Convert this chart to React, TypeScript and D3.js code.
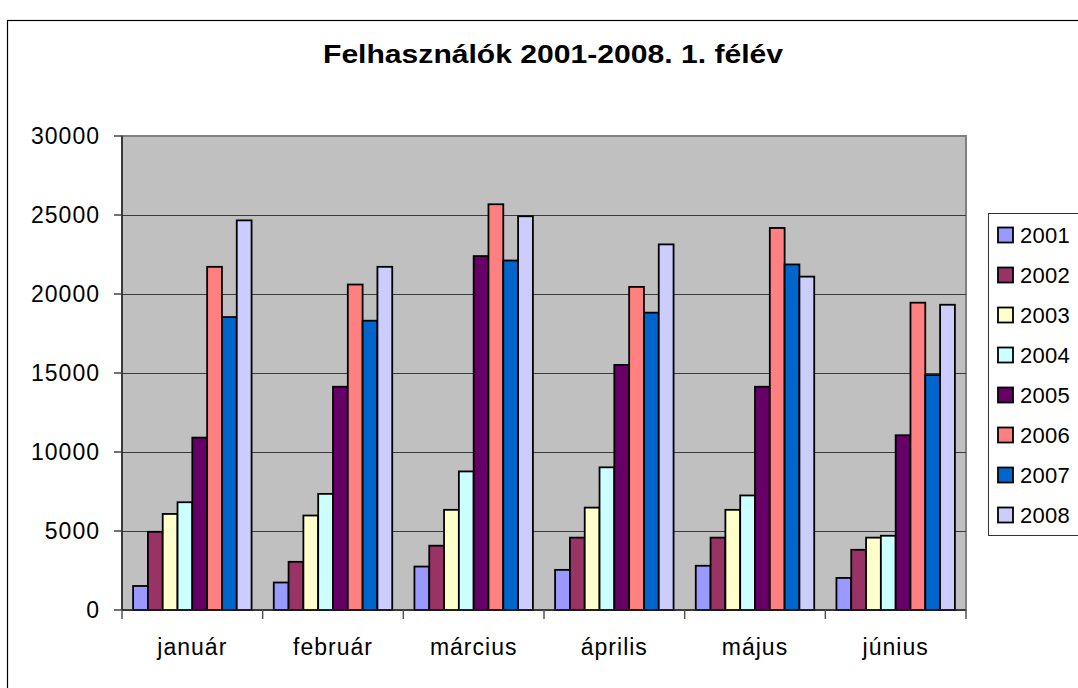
import React, {useEffect, useRef} from 'react';
import * as d3 from 'd3';

const W = 1078;
const H = 688;

const months = ['január', 'február', 'március', 'április', 'május', 'június'];
const years = ['2001', '2002', '2003', '2004', '2005', '2006', '2007', '2008'];
const colors = ['#9999FF', '#993366', '#FFFFCC', '#CCFFFF', '#660066', '#FF8080', '#0066CC', '#CCCCFF'];

// one array per year, Jan..Jun
const y2001 = [1520, 1740, 2750, 2540, 2800, 2030];
const y2002 = [4950, 3050, 4070, 4580, 4580, 3810];
const y2003 = [6080, 5980, 6340, 6480, 6340, 4580];
const y2004 = [6820, 7350, 8770, 9030, 7250, 4700];
const y2005 = [10910, 14130, 22400, 15510, 14130, 11060];
const y2006 = [21720, 20600, 25680, 20450, 24180, 19450];
const y2007 = [18540, 18310, 22120, 18820, 21870, 14870];
const y2008 = [24660, 21720, 24920, 23140, 21100, 19320];
const series = [y2001, y2002, y2003, y2004, y2005, y2006, y2007, y2008];

const yTicks = [0, 5000, 10000, 15000, 20000, 25000, 30000];
const title = 'Felhasználók 2001-2008. 1. félév';

const FONT = '"Liberation Sans", Arial, sans-serif';

function draw(node: SVGSVGElement) {
  const svg = d3.select(node);
  svg.selectAll('*').remove();

  const plot = {left: 122, right: 966, top: 136, bottom: 610};

  const x0 = d3.scaleBand().domain(months).range([plot.left, plot.right]).padding(0);
  const x1 = d3.scaleBand().domain(years).range([0, x0.bandwidth()])
    .paddingInner(0).paddingOuter(0.75);
  const y = d3.scaleLinear().domain([0, 30000]).range([plot.bottom, plot.top]);

  // outer chart frame (runs off the right/bottom edge)
  svg.append('rect')
    .attr('x', 7.5).attr('y', 20.5)
    .attr('width', W + 20).attr('height', H + 20)
    .attr('fill', '#fff').attr('stroke', '#000').attr('stroke-width', 1.2);

  // title
  svg.append('text')
    .attr('x', 553).attr('y', 63)
    .attr('text-anchor', 'middle')
    .attr('font-family', FONT).attr('font-weight', 'bold').attr('font-size', 26)
    .attr('textLength', 460).attr('lengthAdjust', 'spacingAndGlyphs')
    .text(title);

  // plot area
  svg.append('rect')
    .attr('x', plot.left).attr('y', plot.top)
    .attr('width', plot.right - plot.left).attr('height', plot.bottom - plot.top)
    .attr('fill', '#C0C0C0').attr('stroke', '#808080').attr('stroke-width', 2);

  // gridlines
  svg.append('g').selectAll('line')
    .data(yTicks.filter(d => d > 0 && d < 30000))
    .enter().append('line')
    .attr('x1', plot.left).attr('x2', plot.right)
    .attr('y1', d => Math.round(y(d)) + 0.5).attr('y2', d => Math.round(y(d)) + 0.5)
    .attr('stroke', '#3a3a3a').attr('stroke-width', 1.2);

  // bars
  const groups = svg.append('g').selectAll('g')
    .data(months)
    .enter().append('g')
    .attr('transform', d => `translate(${x0(d)},0)`);

  groups.selectAll('rect')
    .data((m, i) => series.map((s, k) => ({year: years[k], value: s[i], color: colors[k]})))
    .enter().append('rect')
    .attr('x', d => x1(d.year)!)
    .attr('y', d => y(d.value))
    .attr('width', x1.bandwidth())
    .attr('height', d => y(0) - y(d.value))
    .attr('fill', d => d.color)
    .attr('stroke', '#000').attr('stroke-width', 1.8);

  // y axis
  svg.append('line')
    .attr('x1', plot.left).attr('x2', plot.left)
    .attr('y1', plot.top).attr('y2', plot.bottom)
    .attr('stroke', '#222').attr('stroke-width', 1.5);
  svg.append('g').selectAll('line')
    .data(yTicks).enter().append('line')
    .attr('x1', plot.left - 8).attr('x2', plot.left)
    .attr('y1', d => y(d)).attr('y2', d => y(d))
    .attr('stroke', '#444').attr('stroke-width', 1.5);
  svg.append('g').selectAll('text')
    .data(yTicks).enter().append('text')
    .attr('x', 100).attr('y', d => y(d))
    .attr('dy', '0.36em')
    .attr('text-anchor', 'end')
    .attr('font-family', FONT).attr('font-size', 23)
    .attr('letter-spacing', 1)
    .text(d => String(d));

  // x axis
  svg.append('line')
    .attr('x1', plot.left).attr('x2', plot.right)
    .attr('y1', plot.bottom).attr('y2', plot.bottom)
    .attr('stroke', '#222').attr('stroke-width', 1.5);
  const bounds = months.map(m => x0(m)!).concat([plot.right]);
  svg.append('g').selectAll('line')
    .data(bounds).enter().append('line')
    .attr('x1', d => d).attr('x2', d => d)
    .attr('y1', plot.bottom).attr('y2', plot.bottom + 9)
    .attr('stroke', '#555').attr('stroke-width', 1.5);
  svg.append('g').selectAll('text')
    .data(months).enter().append('text')
    .attr('x', d => x0(d)! + x0.bandwidth() / 2)
    .attr('y', 647)
    .attr('dy', '0.36em')
    .attr('text-anchor', 'middle')
    .attr('font-family', FONT).attr('font-size', 23)
    .attr('letter-spacing', 1)
    .text(d => d);

  // legend
  const legend = svg.append('g');
  legend.append('rect')
    .attr('x', 988.5).attr('y', 213.5)
    .attr('width', 120).attr('height', 322)
    .attr('fill', '#fff').attr('stroke', '#333').attr('stroke-width', 1);
  const items = legend.selectAll('g.item')
    .data(years).enter().append('g')
    .attr('class', 'item')
    .attr('transform', (d, i) => `translate(0,${235 + i * 40})`);
  items.append('rect')
    .attr('x', 998).attr('y', -7.5)
    .attr('width', 15).attr('height', 15)
    .attr('fill', (d, i) => colors[i])
    .attr('stroke', '#000').attr('stroke-width', 1.8);
  items.append('text')
    .attr('x', 1020).attr('y', 0)
    .attr('dy', '0.36em')
    .attr('font-family', FONT).attr('font-size', 22)
    .attr('letter-spacing', 0.3)
    .text(d => d);
}

export default function App() {
  const ref = useRef<SVGSVGElement>(null);
  useEffect(() => {
    if (ref.current) draw(ref.current);
  }, []);
  return (
    <svg ref={ref} width={W} height={H}
      style={{position: 'absolute', left: 0, top: 0, display: 'block', background: '#fff'}} />
  );
}
